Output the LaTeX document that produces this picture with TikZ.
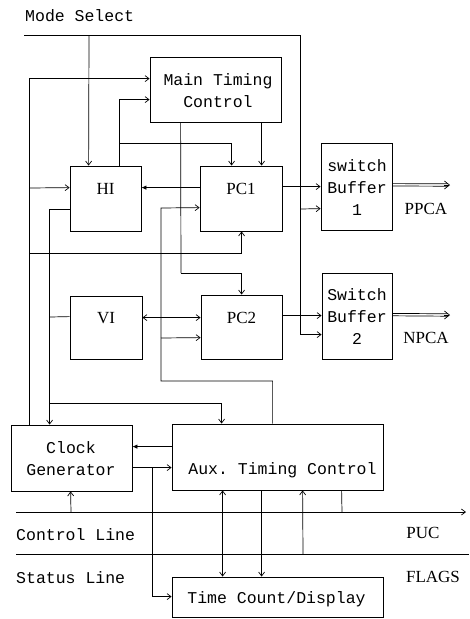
\documentclass[tikz,border=0pt]{standalone}
\usepackage{fontspec}
\setmainfont{Liberation Serif}
\setmonofont{Liberation Mono}
\usepackage{tikz}
\usetikzlibrary{arrows.meta, calc}
\tikzset{
  blk/.style={rectangle, draw, line width=0.8pt, inner sep=0pt},
  mono/.style={font=\ttfamily\fontsize{16.5}{22}\selectfont, inner sep=0pt, align=center},
  roman/.style={font=\fontsize{17}{20}\selectfont, inner sep=0pt},
  wire/.style={line width=0.7pt},
  sig/.style={wire, -{Straight Barb[length=4pt,width=6pt]}},
  dsig/.style={wire, {Straight Barb[length=4pt,width=6pt]}-{Straight Barb[length=4pt,width=6pt]}},
  fsig/.style={wire, -{Latex[length=5pt,width=4.5pt]}},
  otip/.style={wire, -{Straight Barb[length=5pt,width=8pt]}},
}
\begin{document}
\begin{tikzpicture}[x=1pt, y=-1pt]
  \useasboundingbox (0,0) rectangle (469,619);
  % blocks
  \node[blk, minimum width=131pt, minimum height=65pt] (mtc) at (215.5,89.5) {};
  \node[blk, minimum width=71pt, minimum height=65pt] (hi) at (105.5,198.5) {};
  \node[blk, minimum width=82pt, minimum height=65pt] (pc1) at (241,198.5) {};
  \node[blk, minimum width=72pt, minimum height=63pt] (vi) at (106,327.5) {};
  \node[blk, minimum width=81pt, minimum height=64pt] (pc2) at (241.5,327) {};
  \node[blk, minimum width=71pt, minimum height=87pt] (sb1) at (356.5,186.5) {};
  \node[blk, minimum width=70pt, minimum height=86pt] (sb2) at (357,316) {};
  \node[blk, minimum width=121pt, minimum height=66pt] (clk) at (71.5,458) {};
  \node[blk, minimum width=211pt, minimum height=66pt] (atc) at (277.5,457) {};
  \node[blk, minimum width=211pt, minimum height=40pt] (tcd) at (277.5,597) {};
  % texts
  \node[mono, anchor=base west] (msT) at (25,21) {Mode Select};
  \node[mono] (mtcT) at (218,91) {Main Timing\\Control};
  \node[roman, anchor=base] (hiT) at (105.5,194) {HI};
  \node[roman, anchor=base] (pc1T) at (241,194) {PC1};
  \node[roman, anchor=base] (viT) at (106,323) {VI};
  \node[roman, anchor=base] (pc2T) at (241.5,323) {PC2};
  \node[mono] (sb1T) at (357,188) {switch\\Buffer\\1};
  \node[mono] (sb2T) at (357,317) {Switch\\Buffer\\2};
  \node[roman, anchor=base] (ppcaT) at (426,214) {PPCA};
  \node[roman, anchor=base] (npcaT) at (426,343) {NPCA};
  \node[mono] (clkT) at (71,458.5) {Clock\\Generator};
  \node[mono, anchor=base] (atcT) at (282.5,474) {Aux. Timing Control};
  \node[mono, anchor=base] (tcdT) at (276.5,603) {Time Count/Display};
  \node[mono, anchor=base west] (ctlT) at (16,540) {Control Line};
  \node[mono, anchor=base west] (stT) at (16,583) {Status Line};
  \node[roman, anchor=base] (pucT) at (423,538) {PUC};
  \node[roman, anchor=base] (flgT) at (433,582) {FLAGS};
  % junctions and free ends
  \coordinate (ms) at (24,35);
  \coordinate (msH) at (89,35);
  \coordinate (msB) at (301,209);
  \coordinate (ckH) at (30,188);
  \coordinate (ckP) at (30,253);
  \coordinate (hvV) at (50,317);
  \coordinate (hvA) at (50,403);
  \coordinate (hiP) at (120,143);
  \coordinate (mpB) at (181,273);
  \coordinate (apL) at (161,381);
  \coordinate (apT) at (161,208);
  \coordinate (apQ) at (161,338);
  \coordinate (ctB) at (152,468);
  \coordinate (ppcaE) at (450,185);
  \coordinate (npcaE) at (450,315);
  \coordinate (ctlA) at (16,512);
  \coordinate (ctlB) at (466,512);
  \coordinate (ctlC) at (71,512);
  \coordinate (ctlD) at (342,512);
  \coordinate (stA) at (16,554);
  \coordinate (stB) at (469,554);
  \coordinate (stC) at (303,554);
  % mode select
  \draw[sig] (ms) -| ($(sb2.north west)+(-21,62)$) -- ($(sb2.north west)+(0,62)$);
  \draw[sig] (msH) -- ($(hi.north west)+(19,0)$);
  \draw[sig] (msB) -- ($(sb1.north west)+(0,66)$);
  % clock feed
  \draw[sig] ($(clk.north west)+(19,0)$) |- ($(mtc.north west)+(0,22)$);
  \draw[sig] (ckH) -- ($(hi.north west)+(0,22)$);
  \draw[sig] (ckP) -| ($(pc1.south west)+(42,0)$);
  \draw[sig] ($(hi.north west)+(0,44)$) -| ($(clk.north west)+(39,0)$);
  \draw[wire] (hvV) -- ($(vi.north west)+(0,21)$);
  \draw[sig] (hvA) -| ($(atc.north west)+(50,0)$);
  % main timing control
  \draw[sig] ($(hi.north west)+(50,0)$) |- ($(mtc.north west)+(0,43)$);
  \draw[sig] (hiP) -| ($(pc1.north west)+(32,0)$);
  \draw[sig] ($(mtc.south west)+(112,0)$) -- ($(pc1.north west)+(62,0)$);
  \draw[wire] ($(mtc.south west)+(31,0)$) -- (mpB);
  \draw[sig] (mpB) -| ($(pc2.north west)+(41,0)$);
  \draw[fsig] ($(pc1.north west)+(0,22)$) -- ($(hi.north east)+(0,22)$);
  \draw[sig] ($(atc.north west)+(101,0)$) |- (apL) -- (apT) -- ($(pc1.north west)+(0,42)$);
  \draw[sig] (apQ) -- ($(pc2.north west)+(0,43)$);
  \draw[dsig] ($(vi.north east)+(0,22)$) -- ($(pc2.north west)+(0,23)$);
  % buffers
  \draw[sig] ($(pc1.north east)+(0,21)$) -- ($(sb1.north west)+(0,44)$);
  \draw[sig] ($(pc2.north east)+(0,21)$) -- ($(sb2.north west)+(0,43)$);
  \draw[wire] ($(sb1.north east)+(0,41)$) -- ($(ppcaE)+(-2,-1.2)$);
  \draw[wire] ($(sb1.north east)+(0,43.4)$) -- ($(ppcaE)+(-2,1.2)$);
  \draw[otip] ($(ppcaE)+(-6,0)$) -- (ppcaE);
  \draw[wire] ($(sb2.north east)+(0,40.8)$) -- ($(npcaE)+(-2,-1.2)$);
  \draw[wire] ($(sb2.north east)+(0,43.2)$) -- ($(npcaE)+(-2,1.2)$);
  \draw[otip] ($(npcaE)+(-6,0)$) -- (npcaE);
  % aux timing control
  \draw[fsig] ($(atc.north west)+(0,23)$) -- ($(clk.north east)+(0,22)$);
  \draw[sig] ($(clk.north east)+(0,43)$) -- ($(atc.north west)+(0,44)$);
  \draw[sig] (ctB) |- ($(tcd.north west)+(0,20)$);
  \draw[dsig] ($(atc.south west)+(51,0)$) -- ($(tcd.north west)+(51,0)$);
  \draw[sig] ($(atc.south west)+(90,0)$) -- ($(tcd.north west)+(90,0)$);
  % control and status lines
  \draw[sig] (ctlA) -- (ctlB);
  \draw[sig] (ctlC) -- ($(clk.south west)+(60,0)$);
  \draw[wire] ($(atc.south west)+(170,0)$) -- (ctlD);
  \draw[wire] (stA) -- (stB);
  \draw[sig] (stC) -- ($(atc.south west)+(131,0)$);
\end{tikzpicture}
\end{document}
